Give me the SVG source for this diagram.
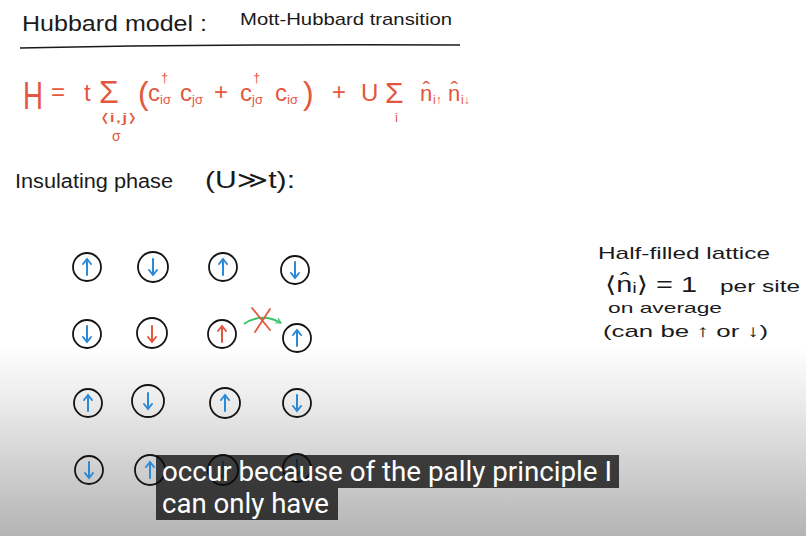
<svg xmlns="http://www.w3.org/2000/svg" width="806" height="536" viewBox="0 0 806 536">
<defs>
<linearGradient id="fade" x1="0" y1="0" x2="0" y2="1">
<stop offset="0" stop-color="#ffffff"/>
<stop offset="0.3" stop-color="#ebebeb"/>
<stop offset="1" stop-color="#b4b4b4"/>
</linearGradient>
<path id="up" d="M0,8 V-7 M-4,-3 L0,-8 L4,-3"/>
<path id="dn" d="M0,-8 V7 M-4,3 L0,8 L4,3"/>
<marker id="gh" viewBox="0 0 10 10" refX="8" refY="5" markerWidth="7" markerHeight="7" orient="auto" markerUnits="userSpaceOnUse">
<path d="M1,1 L8,5 L1,9" fill="none" stroke="#3cc46a" stroke-width="1.6"/>
</marker>
</defs>
<style>
.hw{font-family:"Liberation Sans","DejaVu Sans",sans-serif;fill:#1a1a1a}
.rd{font-family:"Liberation Sans","DejaVu Sans",sans-serif;fill:#e4573f}
.site circle{fill:none;stroke:#141414;stroke-width:1.8}
.blue{stroke:#2a8ad8;stroke-width:2;fill:none;stroke-linecap:round}
.red{stroke:#e4573f;stroke-width:2;fill:none;stroke-linecap:round}
.sub{font-family:Roboto,"Liberation Sans",sans-serif;fill:#ffffff;font-size:27px}
</style>
<rect width="806" height="536" fill="#ffffff"/>
<rect x="0" y="345" width="806" height="191" fill="url(#fade)"/>

<g id="title">
<text class="hw" x="22" y="31" font-size="22" textLength="185" lengthAdjust="spacingAndGlyphs">Hubbard model :</text>
<text class="hw" x="240" y="25" font-size="17" textLength="212" lengthAdjust="spacingAndGlyphs">Mott-Hubbard transition</text>
<path d="M20,48 Q200,44 460,45" fill="none" stroke="#1a1a1a" stroke-width="1.6"/>
</g>

<g id="hamiltonian">
<text class="rd" x="23" y="109" font-size="38" textLength="20" lengthAdjust="spacingAndGlyphs">H</text>
<text class="rd" x="51" y="100" font-size="24">=</text>
<text class="rd" x="84" y="101" font-size="24">t</text>
<text class="rd" x="99" y="103" font-size="32">Σ</text>
<text class="rd" x="100" y="122" font-size="12" textLength="37" lengthAdjust="spacingAndGlyphs">⟨i,j⟩</text>
<text class="rd" x="112" y="141" font-size="14">σ</text>
<text class="rd" x="138" y="104" font-size="32">(</text>
<text class="rd" x="148" y="101" font-size="24">c</text>
<text class="rd" x="161" y="82" font-size="13">†</text>
<text class="rd" x="160" y="104" font-size="13">iσ</text>
<text class="rd" x="180" y="101" font-size="24">c</text>
<text class="rd" x="192" y="104" font-size="13">jσ</text>
<text class="rd" x="214" y="100" font-size="24">+</text>
<text class="rd" x="240" y="101" font-size="24">c</text>
<text class="rd" x="253" y="82" font-size="13">†</text>
<text class="rd" x="252" y="104" font-size="13">jσ</text>
<text class="rd" x="275" y="101" font-size="24">c</text>
<text class="rd" x="287" y="104" font-size="13">iσ</text>
<text class="rd" x="303" y="104" font-size="32">)</text>
<text class="rd" x="332" y="100" font-size="24">+</text>
<text class="rd" x="361" y="101" font-size="24">U</text>
<text class="rd" x="385" y="103" font-size="30">Σ</text>
<text class="rd" x="395" y="122" font-size="13">i</text>
<text class="rd" x="420" y="101" font-size="22">n̂</text>
<text class="rd" x="433" y="104" font-size="12">i↑</text>
<text class="rd" x="448" y="101" font-size="22">n̂</text>
<text class="rd" x="461" y="104" font-size="12">i↓</text>
</g>

<g id="phase-label">
<text class="hw" x="15" y="188" font-size="20" textLength="158" lengthAdjust="spacingAndGlyphs">Insulating phase</text>
<text class="hw" x="205" y="188" font-size="24" textLength="90" lengthAdjust="spacingAndGlyphs">(U≫t):</text>
</g>

<g id="note">
<text class="hw" x="598" y="259" font-size="17" textLength="172" lengthAdjust="spacingAndGlyphs">Half-filled lattice</text>
<text class="hw" x="605" y="292" font-size="22" textLength="92" lengthAdjust="spacingAndGlyphs">⟨n̂ᵢ⟩ = 1</text>
<text class="hw" x="720" y="292" font-size="17" textLength="80" lengthAdjust="spacingAndGlyphs">per site</text>
<text class="hw" x="608" y="313" font-size="15" textLength="114" lengthAdjust="spacingAndGlyphs">on average</text>
<text class="hw" x="603" y="337" font-size="17" textLength="165" lengthAdjust="spacingAndGlyphs">(can be ↑ or ↓)</text>
</g>

<g id="lattice">
<g id="s11" class="site"><circle cx="87" cy="267" r="14"/><use href="#up" x="87" y="267" class="blue"/></g>
<g id="s12" class="site"><circle cx="153" cy="267" r="15"/><use href="#dn" x="153" y="267" class="blue"/></g>
<g id="s13" class="site"><circle cx="223" cy="267" r="14"/><use href="#up" x="223" y="267" class="blue"/></g>
<g id="s14" class="site"><circle cx="295" cy="270" r="14"/><use href="#dn" x="295" y="270" class="blue"/></g>

<g id="s21" class="site"><circle cx="87" cy="334" r="14"/><use href="#dn" x="87" y="334" class="blue"/></g>
<g id="s22" class="site"><circle cx="152" cy="333" r="15"/><use href="#dn" x="152" y="334" class="red"/></g>
<g id="s23" class="site"><circle cx="222" cy="334" r="14"/><use href="#up" x="222" y="334" class="red"/></g>
<g id="s24" class="site"><circle cx="297" cy="338" r="14"/><use href="#up" x="297" y="338" class="blue"/></g>

<g id="s31" class="site"><circle cx="88" cy="403" r="14"/><use href="#up" x="88" y="403" class="blue"/></g>
<g id="s32" class="site"><circle cx="148" cy="401" r="16"/><use href="#dn" x="148" y="401" class="blue"/></g>
<g id="s33" class="site"><circle cx="225" cy="403" r="15"/><use href="#up" x="225" y="403" class="blue"/></g>
<g id="s34" class="site"><circle cx="297" cy="403" r="14"/><use href="#dn" x="297" y="403" class="blue"/></g>

<g id="s41" class="site"><circle cx="89" cy="470" r="14"/><use href="#dn" x="89" y="470" class="blue"/></g>
<g id="s42" class="site"><circle cx="150" cy="470" r="15"/><use href="#up" x="150" y="470" class="blue"/></g>
<g id="s43" class="site"><circle cx="223" cy="470" r="15"/><use href="#dn" x="223" y="470" class="blue"/></g>
<g id="s44" class="site"><circle cx="297" cy="468" r="14"/><use href="#dn" x="297" y="468" class="blue"/></g>
</g>

<g id="connectors">
<path d="M244,324 Q262,312 281,323" fill="none" stroke="#3cc46a" stroke-width="2" marker-end="url(#gh)"/>
<path d="M252,308 L270,330 M270,309 L255,332" fill="none" stroke="#e4573f" stroke-width="1.8" stroke-linecap="round"/>
</g>

<g id="subtitles">
<rect x="156" y="455" width="463" height="33" fill="rgba(8,8,8,0.75)"/>
<rect x="156" y="488" width="182" height="32" fill="rgba(8,8,8,0.75)"/>
<text class="sub" x="162" y="481" textLength="450" lengthAdjust="spacingAndGlyphs">occur because of the pally principle I</text>
<text class="sub" x="162" y="513" textLength="167" lengthAdjust="spacingAndGlyphs">can only have</text>
</g>
</svg>
